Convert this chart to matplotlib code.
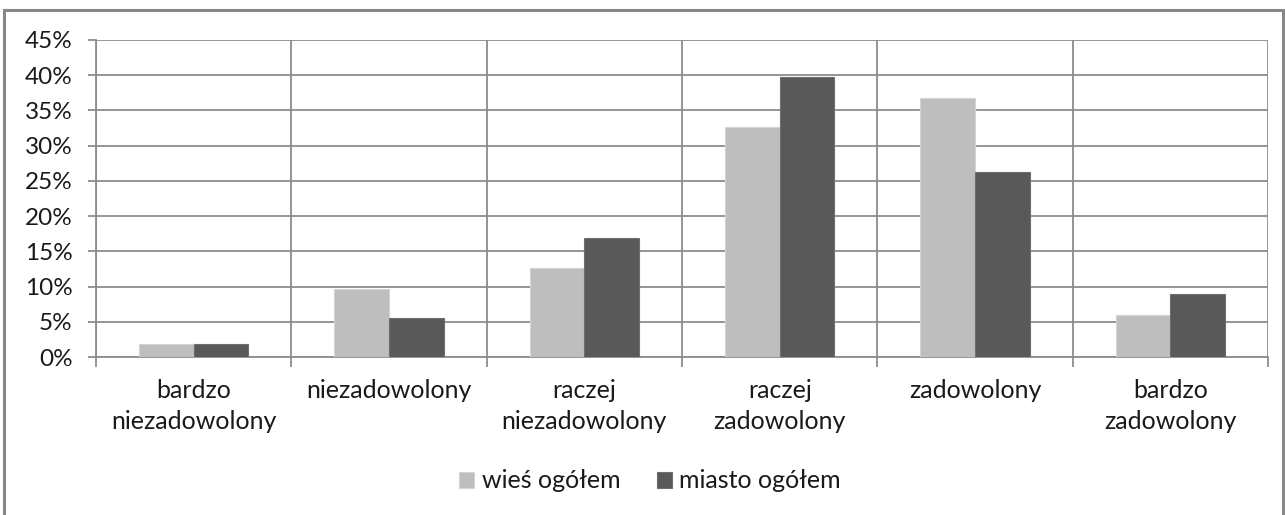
import matplotlib
matplotlib.use("Agg")
import matplotlib.pyplot as plt
from matplotlib.patches import Rectangle
from matplotlib.ticker import FuncFormatter
import numpy as np

categories = ["bardzo\nniezadowolony", "niezadowolony", "raczej\nniezadowolony",
              "raczej\nzadowolony", "zadowolony", "bardzo\nzadowolony"]
wies = [1.8, 9.6, 12.7, 32.7, 36.7, 6.0]
miasto = [1.8, 5.6, 16.9, 39.8, 26.3, 8.9]
series_names = ["wieś ogółem", "miasto ogółem"]
yticks = [0, 5, 10, 15, 20, 25, 30, 35, 40, 45]

plt.rcParams['font.family'] = ['Lato', 'DejaVu Sans']

fig = plt.figure(figsize=(12.85, 5.15), dpi=100)
ax = fig.add_axes([96/1285, 1-357/515, (1268-96)/1285, (357-40)/515])

grid_col = "#8c8c8c"
txt_col = "#1a1a1a"
fs = 18
x = np.arange(len(categories))
w = 0.28
b1 = ax.bar(x - w/2, wies, w, color="#bebebe", edgecolor="#d4d4d4", linewidth=0.8,
            label=series_names[0], zorder=3)
b2 = ax.bar(x + w/2, miasto, w, color="#595959", edgecolor="#6e6e6e", linewidth=0.8,
            label=series_names[1], zorder=3)

ax.set_xlim(-0.5, len(categories) - 0.5)
ax.set_ylim(0, 45)
ax.set_yticks(yticks)
ax.yaxis.set_major_formatter(FuncFormatter(lambda v, p: f"{int(v)}%"))
ax.set_xticks(x)
ax.set_xticklabels(categories, fontsize=fs, color=txt_col, linespacing=1.4)
ax.set_xticks(np.arange(-0.5, len(categories)), minor=True)

ax.tick_params(axis="x", which="major", length=0, pad=16)
ax.tick_params(axis="x", which="minor", length=7.5, width=1.3, color=grid_col)
ax.tick_params(axis="y", length=6, width=1.3, color=grid_col, pad=11,
               labelsize=17.5, labelcolor=txt_col)

ax.grid(axis="y", color=grid_col, linewidth=1.3, zorder=1)
ax.grid(axis="x", which="minor", color=grid_col, linewidth=1.3, zorder=1)
ax.set_axisbelow(True)
for s in ["top", "right"]:
    ax.spines[s].set_visible(False)
for s in ["left", "bottom"]:
    ax.spines[s].set_color(grid_col)
    ax.spines[s].set_linewidth(1.3)

leg = fig.legend(handles=[b1, b2], loc="center", bbox_to_anchor=(650/1285, 1-481/515),
                 ncol=2, frameon=False, fontsize=fs, handlelength=0.6,
                 handleheight=0.6, handletextpad=0.3, columnspacing=1.45)
for t in leg.get_texts():
    t.set_color(txt_col)

# outer chart frame
fig.patches.append(Rectangle((4/1285, -0.05), (1283-4)/1285, 1.05 - 10/515,
                             transform=fig.transFigure, fill=False,
                             edgecolor="#888888", linewidth=2.2))

fig.savefig("out.png", dpi=100, facecolor="white")
